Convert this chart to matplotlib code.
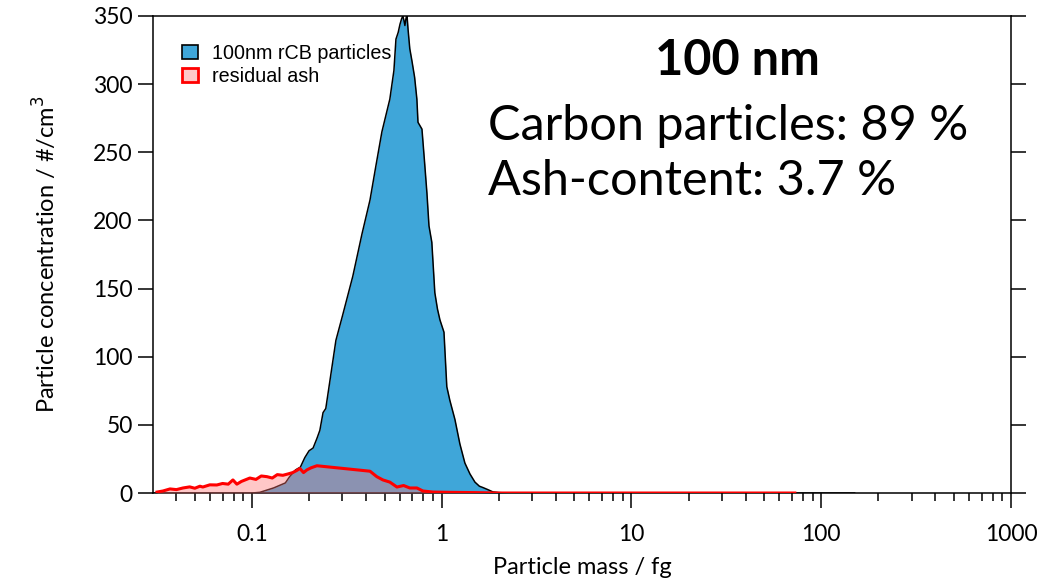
import matplotlib
matplotlib.use('Agg')
import matplotlib.pyplot as plt
from matplotlib.patches import Patch
from matplotlib.ticker import FixedLocator, NullFormatter, LogLocator

# rCB particle distribution (mass in fg, concentration in #/cm3)
rcb_mass = [0.03, 0.10, 0.11, 0.13, 0.15, 0.158, 0.17, 0.18, 0.19, 0.20, 0.21, 0.22,
            0.228, 0.237, 0.245, 0.258, 0.277, 0.30, 0.34, 0.38, 0.419, 0.45, 0.484,
            0.533, 0.56, 0.574, 0.59, 0.603, 0.615, 0.624, 0.632, 0.640, 0.648, 0.656,
            0.665, 0.679, 0.697, 0.72, 0.74, 0.75, 0.787, 0.81, 0.836, 0.857, 0.887,
            0.92, 0.95, 0.979, 1.028, 1.064, 1.104, 1.174, 1.247, 1.325, 1.409, 1.497,
            1.58, 1.65, 1.75, 1.862, 2.0, 2.2, 150.0]
rcb_conc = [0, 0, 0.5, 3.7, 7.4, 12, 17, 19, 26, 31, 33, 40,
            46, 59, 62, 83, 112, 130, 159, 190, 215, 240, 265,
            289, 310, 333, 338, 344, 348, 350, 347, 343, 348, 351,
            340, 326, 317, 305, 289, 272, 267, 245, 220, 196, 184,
            147, 135, 127, 118, 78, 68, 54, 36, 22, 14, 8,
            5, 4, 2.5, 0.8, 0.3, 0, 0]

# residual ash distribution
ash_mass = [0.0316, 0.034, 0.037, 0.040, 0.0433, 0.047, 0.050, 0.0532, 0.0551, 0.060,
            0.0653, 0.070, 0.075, 0.0794, 0.0833, 0.088, 0.0975, 0.105, 0.112, 0.120,
            0.128, 0.136, 0.1455, 0.155, 0.164, 0.172, 0.179, 0.187, 0.195, 0.205,
            0.220, 0.419, 0.455, 0.490, 0.533, 0.581, 0.63, 0.679, 0.740, 0.796,
            0.90, 1.10, 1.5, 2.0, 72.6]
ash_conc = [0.7, 1.5, 3, 2.5, 3.7, 4.5, 3.5, 5, 4.4, 6,
            5.9, 7, 6.5, 9.6, 6.5, 8.5, 11, 10, 12.5, 12,
            11, 13.5, 13, 14, 15, 16.5, 18, 15, 17, 18.5,
            20, 16, 12, 9.6, 8, 4.4, 5.5, 3.7, 3.7, 1.5,
            0.7, 0.5, 0.3, 0, 0]

xticks = [0.1, 1, 10, 100, 1000]
xtick_labels = ['0.1', '1', '10', '100', '1000']
yticks = [0, 50, 100, 150, 200, 250, 300, 350]

plt.rcParams['font.family'] = ['Lato', 'DejaVu Sans']

fig = plt.figure(figsize=(10.4, 5.79), dpi=100)
ax = fig.add_axes([0.1471, 0.1485, 0.8250, 0.8239])

blue = '#3fa6d9'
ax.fill_between(rcb_mass, rcb_conc, 0, color=blue, lw=0, zorder=2)
ax.plot(rcb_mass, rcb_conc, color='black', lw=1.1, zorder=3)
ax.fill_between(ash_mass, ash_conc, 0, color='#ff7575', alpha=0.4, lw=0, zorder=4)
ax.plot(ash_mass, ash_conc, color='red', lw=2.2, zorder=5)

ax.set_xscale('log')
ax.set_xlim(0.0301, 1000)
ax.set_ylim(0, 350)

ax.xaxis.set_major_locator(FixedLocator(xticks))
ax.set_xticklabels(xtick_labels)
ax.xaxis.set_minor_locator(LogLocator(base=10, subs=range(2, 10)))
ax.xaxis.set_minor_formatter(NullFormatter())
ax.set_yticks(yticks)

ax.tick_params(axis='both', which='major', direction='out', length=11, width=1.1,
               labelsize=16.5, colors='black')
ax.tick_params(axis='x', which='major', pad=11)
ax.tick_params(axis='x', which='minor', direction='out', length=6, width=1.1)
ax.tick_params(axis='y', right=True, left=True)
ax.tick_params(axis='x', top=False, which='both')
for s in ax.spines.values():
    s.set_linewidth(1.1)

ax.set_xlabel('Particle mass / fg', fontsize=17, labelpad=9)
ax.set_ylabel('Particle concentration / #/cm$^3$', fontsize=17, labelpad=24)

handles = [Patch(facecolor=blue, edgecolor='black', lw=1.2, label='100nm rCB particles'),
           Patch(facecolor='#ffc8c8', edgecolor='red', lw=2, label='residual ash')]
leg = ax.legend(handles=handles, loc='upper left', bbox_to_anchor=(0.034, 0.942),
                frameon=False, prop={'family': 'Liberation Sans', 'size': 14.2},
                handlelength=0.8, handleheight=0.7, handletextpad=0.7,
                labelspacing=0.2, borderaxespad=0, borderpad=0)

fig.text(0.709, 0.8705, '100 nm', fontsize=35, fontweight='bold', ha='center', va='baseline')
fig.text(0.469, 0.758, 'Carbon particles: 89 %', fontsize=35, ha='left', va='baseline')
fig.text(0.469, 0.663, 'Ash-content: 3.7 %', fontsize=35, ha='left', va='baseline')

fig.savefig('out.png', dpi=100)
